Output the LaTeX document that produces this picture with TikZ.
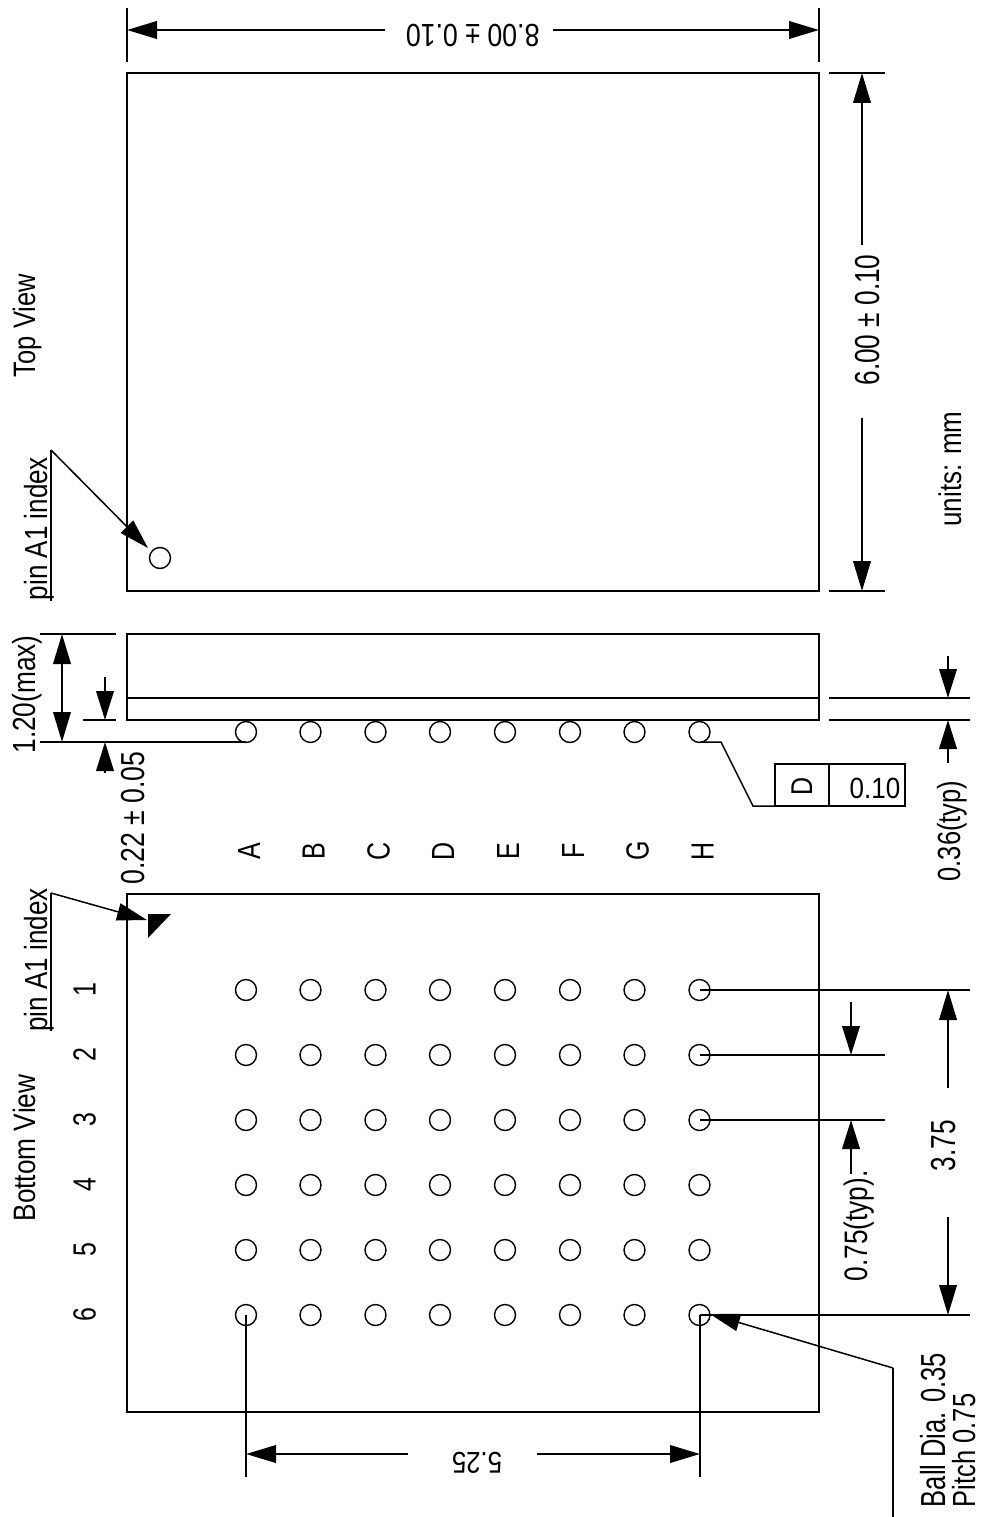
\documentclass[tikz,border=0pt]{standalone}
\usepackage{graphicx}
\usepackage{fontspec}
\setmainfont{Liberation Sans}
\usetikzlibrary{arrows.meta}
\newcommand{\stx}[3]{\scalebox{#1}[#2]{#3}}
\tikzset{
  ln/.style={line width=2.2pt,draw=black},
  thin ln/.style={line width=1.5pt,draw=black},
  head/.style={-{Triangle[length=30pt,width=17.5pt]}},
  smallhead/.style={-{Triangle[length=29pt,width=17.5pt]}},
  lbl/.style={inner sep=0pt,outer sep=0pt,anchor=base,font=\fontsize{25}{28}\selectfont},
  rbox/.style={ln,draw,inner sep=0pt,outer sep=0pt},
  ball/.style={circle,draw=black,line width=1.4pt,minimum size=21pt,inner sep=0pt,outer sep=0pt},
}
\begin{document}
\begin{tikzpicture}[x=1pt,y=-1pt]
\useasboundingbox (0,0) rectangle (982,1517);
% packages
\node[rbox,minimum width=692pt,minimum height=518pt,anchor=north west] (top) at (127,73) {};
\node[rbox,minimum width=692pt,minimum height=86pt,anchor=north west] (side) at (127,634) {};
\node[rbox,minimum width=692pt,minimum height=518pt,anchor=north west] (bot) at (127,894) {};
\coordinate (sideL) at (127,698); \coordinate (sideR) at (819,698);
\draw[ln] (sideL) -- (sideR);
% pin index circle
\node[ball] (idx) at (160,558) {};
% balls
\foreach \c/\x/\l in {1/246/A,2/310.5/B,3/375.5/C,4/440/D,5/505/E,6/570/F,7/634.5/G,8/699.5/H}{
  \node[ball] (s\c) at (\x,732) {};
  \node[lbl,rotate=90] (lab\c) at (\x+14,851) {\stx{1}{1.28}{\l}};
  \foreach \r/\y in {1/990,2/1055,3/1120,4/1185,5/1250,6/1315}{
    \node[ball] (b\c-\r) at (\x,\y) {};
  }
}
\foreach \r/\y in {1/990,2/1055,3/1120,4/1185,5/1250,6/1315}{
  \node[lbl,rotate=90] (row\r) at (95.7,\y) {\stx{1}{1.28}{\r}};
}
% pin A1 triangle
\fill[black] (148,914) -- (171,914) -- (148,938) -- cycle;
% top width dim
\coordinate (w1a) at (127,8); \coordinate (w1b) at (127,62);
\coordinate (w2a) at (819,8); \coordinate (w2b) at (819,62);
\draw[ln] (w1a) -- (w1b);
\draw[ln] (w2a) -- (w2b);
\coordinate (w1) at (127,30); \coordinate (w2) at (819,30);
\coordinate (w1e) at (385,30); \coordinate (w2e) at (553,30);
\draw[ln,head] (w1e) -- (w1);
\draw[ln,head] (w2e) -- (w2);
\node[lbl,rotate=180] (twidth) at (472.7,25) {\stx{1.07}{1.28}{8.00 ± 0.10}};
% top height dim
\coordinate (h1a) at (829,73); \coordinate (h1b) at (885,73);
\coordinate (h2a) at (829,591); \coordinate (h2b) at (885,591);
\draw[ln] (h1a) -- (h1b);
\draw[ln] (h2a) -- (h2b);
\coordinate (h1) at (862,73); \coordinate (h2) at (862,591);
\coordinate (h1e) at (862,245); \coordinate (h2e) at (862,418);
\draw[ln,head] (h1e) -- (h1);
\draw[ln,head] (h2e) -- (h2);
\node[lbl,rotate=90] (theight) at (879,320) {\stx{1.05}{1.39}{6.00 ± 0.10}};
\node[lbl,rotate=90] (units) at (961,469) {\stx{1.04}{1.25}{units: mm}};
\node[lbl,rotate=90] (topview) at (35,325.5) {\stx{1.02}{1.24}{Top View}};
\node[lbl,rotate=90] (botview) at (35,1148) {\stx{1.05}{1.24}{Bottom View}};
% pin A1 top leader
\node[lbl,rotate=90] (pin1) at (47,528.5) {\stx{1.04}{1.28}{pin A1 index}};
\coordinate (p1a) at (51,601); \coordinate (p1b) at (51,450); \coordinate (p1c) at (148,548);
\draw[thin ln] (p1b) -- (p1a);
\draw[thin ln,head] (p1b) -- (p1c);
% side left dims
\coordinate (a1) at (40,634); \coordinate (a2) at (116,634);
\coordinate (a3) at (83,720); \coordinate (a4) at (116,720);
\coordinate (a5) at (40,742); \coordinate (a6) at (246,742);
\draw[ln] (a1) -- (a2);
\draw[ln] (a3) -- (a4);
\draw[ln] (a5) -- (a6);
\coordinate (t1) at (62,634); \coordinate (t2) at (62,742);
\draw[ln,{Triangle[length=30pt,width=17.5pt]}-{Triangle[length=30pt,width=17.5pt]}] (t1) -- (t2);
\coordinate (u1) at (105,677); \coordinate (u2) at (105,720);
\coordinate (u3) at (105,773); \coordinate (u4) at (105,742);
\draw[ln,smallhead] (u1) -- (u2);
\draw[ln,smallhead] (u3) -- (u4);
\node[lbl,rotate=90] (maxh) at (35,694.5) {\stx{1.05}{1.28}{1.20(max)}};
\node[lbl,rotate=90] (ball22) at (144,818) {\stx{1.065}{1.33}{0.22 ± 0.05}};
% side right dims
\coordinate (r1) at (829,698); \coordinate (r2) at (970,698);
\coordinate (r3) at (829,720); \coordinate (r4) at (970,720);
\draw[ln] (r1) -- (r2);
\draw[ln] (r3) -- (r4);
\coordinate (v1) at (948,656); \coordinate (v2) at (948,698);
\coordinate (v3) at (948,763); \coordinate (v4) at (948,720);
\draw[ln,smallhead] (v1) -- (v2);
\draw[ln,smallhead] (v3) -- (v4);
\node[lbl,rotate=90] (typ36) at (960,831) {\stx{1.02}{1.28}{0.36(typ)}};
% datum box
\node[rbox,minimum width=54pt,minimum height=42pt,anchor=south west] (dbox) at (775,806) {};
\node[rbox,minimum width=76pt,minimum height=42pt,anchor=south west] (vbox) at (829,806) {};
\node[lbl,rotate=90] (dtxt) at (812,786.5) {\stx{1}{1.2}{D}};
\node[lbl] (vtxt) at (875,798) {\stx{1.04}{1.17}{0.10}};
\coordinate (lead1) at (700,742); \coordinate (lead2) at (721,742); \coordinate (lead3) at (753,806);
\draw[thin ln] (lead1) -- (lead2) -- (lead3) -- (dbox.south west);
% pin A1 bottom leader
\node[lbl,rotate=90] (pin2) at (47,960) {\stx{1.04}{1.28}{pin A1 index}};
\coordinate (p2a) at (51,1031); \coordinate (p2b) at (51,893); \coordinate (p2c) at (147,920);
\draw[thin ln] (p2b) -- (p2a);
\draw[thin ln,head] (p2b) -- (p2c);
% bottom right dims
\coordinate (e1) at (700,990); \coordinate (e1b) at (970,990);
\coordinate (e2) at (700,1055); \coordinate (e2b) at (885,1055);
\coordinate (e3) at (700,1120); \coordinate (e3b) at (885,1120);
\coordinate (e6) at (700,1315); \coordinate (e6b) at (970,1315);
\draw[ln] (e1) -- (e1b);
\draw[ln] (e2) -- (e2b);
\draw[ln] (e3) -- (e3b);
\draw[ln] (e6) -- (e6b);
\coordinate (q1) at (851,1002); \coordinate (q2) at (851,1055);
\coordinate (q3) at (851,1174); \coordinate (q4) at (851,1120);
\draw[ln,smallhead] (q1) -- (q2);
\draw[ln,smallhead] (q3) -- (q4);
\node[lbl,rotate=90] (typ75) at (867,1226) {\stx{1.05}{1.3}{0.75(typ).}};
\coordinate (z1) at (948,1088); \coordinate (z2) at (948,990);
\coordinate (z3) at (948,1217); \coordinate (z4) at (948,1315);
\draw[ln,head] (z1) -- (z2);
\draw[ln,head] (z3) -- (z4);
\node[lbl,rotate=90] (d375) at (955,1145.5) {\stx{1.05}{1.39}{3.75}};
% bottom width dim
\coordinate (f1a) at (246,1315); \coordinate (f1b) at (246,1477);
\coordinate (f2a) at (700,1315); \coordinate (f2b) at (700,1477);
\draw[ln] (f1a) -- (f1b);
\draw[ln] (f2a) -- (f2b);
\coordinate (g1) at (246,1454); \coordinate (g2) at (700,1454);
\coordinate (g1e) at (408,1454); \coordinate (g2e) at (537,1454);
\draw[ln,head] (g1e) -- (g1);
\draw[ln,head] (g2e) -- (g2);
\node[lbl,rotate=180] (d525) at (477,1452) {\stx{1.03}{1.2}{5.25}};
% ball leader
\coordinate (m1) at (893,1517); \coordinate (m2) at (893,1368); \coordinate (m3) at (710,1314);
\draw[thin ln] (m1) -- (m2);
\draw[thin ln,head] (m2) -- (m3);
\node[lbl,rotate=90,anchor=base west] (balltxt) at (945,1507) {\stx{1.02}{1.39}{Ball Dia. 0.35}};
\node[lbl,rotate=90,anchor=base west] (pitchtxt) at (975,1507) {\stx{1.02}{1.28}{Pitch 0.75}};
\end{tikzpicture}
\end{document}
